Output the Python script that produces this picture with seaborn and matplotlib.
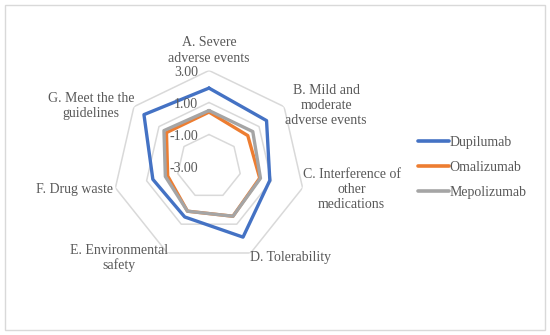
import numpy as np
import pandas as pd
import matplotlib
matplotlib.use("Agg")
import matplotlib.pyplot as plt
from matplotlib.patches import Rectangle
import seaborn as sns

# %%
# values (scale -3 .. 3)
categories = ["A. Severe\nadverse events", "B. Mild and\nmoderate\nadverse events",
              "C. Interference of\nother\nmedications", "D. Tolerability",
              "E. Environmental\nsafety", "F. Drug waste", "G. Meet the the\nguidelines"]
dupilumab = [1.9, 1.6, 0.9, 1.9, 0.5, 0.6, 2.2]
omalizumab = [0.4, 0.1, 0.25, 0.45, 0.1, -0.35, 0.4]
mepolizumab = [0.5, 0.5, 0.3, 0.45, 0.1, -0.2, 0.6]
series_names = ["Dupilumab", "Omalizumab", "Mepolizumab"]
grid_levels = [-1, 1, 3]
tick_values = [3, 1, -1, -3]
tick_labels = ["3.00", "1.00", "-1.00", "-3.00"]

colors = ["#4472C4", "#ED7D31", "#A5A5A5"]
text_color = "#595959"
grid_color = "#D9D9D9"

# %%
# long table, closing each polygon by repeating the first point
n = len(categories)
angles = np.arange(n + 1) * 2 * np.pi / n
rows = []
for name, vals in zip(series_names, [dupilumab, omalizumab, mepolizumab]):
    closed = list(vals) + [vals[0]]
    for a, v in zip(angles, closed):
        rows.append({"angle": a, "score": v, "drug": name})
df = pd.DataFrame(rows)

# %%
sns.set_style("white")
plt.rcParams["font.family"] = ["Liberation Serif", "DejaVu Serif"]

fig = plt.figure(figsize=(5.5, 3.35), dpi=100)
ax = fig.add_axes([113 / 550, 72.5 / 335, 192 / 550, 192 / 335], projection="polar")
ax.set_theta_zero_location("N")
ax.set_theta_direction(-1)

# heptagon gridlines
for lvl in grid_levels:
    ax.plot(angles, [lvl] * (n + 1), color=grid_color, lw=1.1, zorder=1)

sns.lineplot(data=df, x="angle", y="score", hue="drug", hue_order=series_names,
             palette=colors, sort=False, estimator=None, linewidth=2.4, ax=ax,
             zorder=3)

ax.set_ylim(-3, 3)
ax.grid(False)
ax.spines["polar"].set_visible(False)
ax.set_xticks([])
ax.set_yticks([])
ax.set_xlabel("")
ax.set_ylabel("")

# radial value labels along the top axis
for v, lab in zip(tick_values, tick_labels):
    ax.annotate(lab, xy=(0, v), xytext=(-11, -2), textcoords="offset pixels",
                ha="right", va="center", fontsize=10, color=text_color, zorder=5)

# category labels around the outer ring
offsets = [(0, 20), (42, 1), (49, -2), (40, -5), (-48, -5), (-41, -2), (-43, 1)]
for a, lab, off in zip(angles[:n], categories, offsets):
    ax.annotate(lab, xy=(a, 3), xytext=off, textcoords="offset pixels",
                ha="center", va="center", multialignment="center",
                fontsize=10, color=text_color, linespacing=1.2,
                annotation_clip=False)

sns.move_legend(ax, "center left", bbox_to_anchor=(418 / 550, 167.8 / 335),
                bbox_transform=fig.transFigure, title=None, frameon=False,
                fontsize=10, handlelength=2.2, handletextpad=0.05,
                labelspacing=0.85, borderpad=0, borderaxespad=0)
leg = ax.get_legend()
for txt in leg.get_texts():
    txt.set_color(text_color)
for h in leg.legend_handles:
    h.set_linewidth(2.6)

# light frame round the figure
fig.patches.append(Rectangle((5 / 550, 5 / 335), 540 / 550, 325 / 335,
                             transform=fig.transFigure, fill=False,
                             ec=grid_color, lw=1))

fig.savefig("out.png", dpi=100)
